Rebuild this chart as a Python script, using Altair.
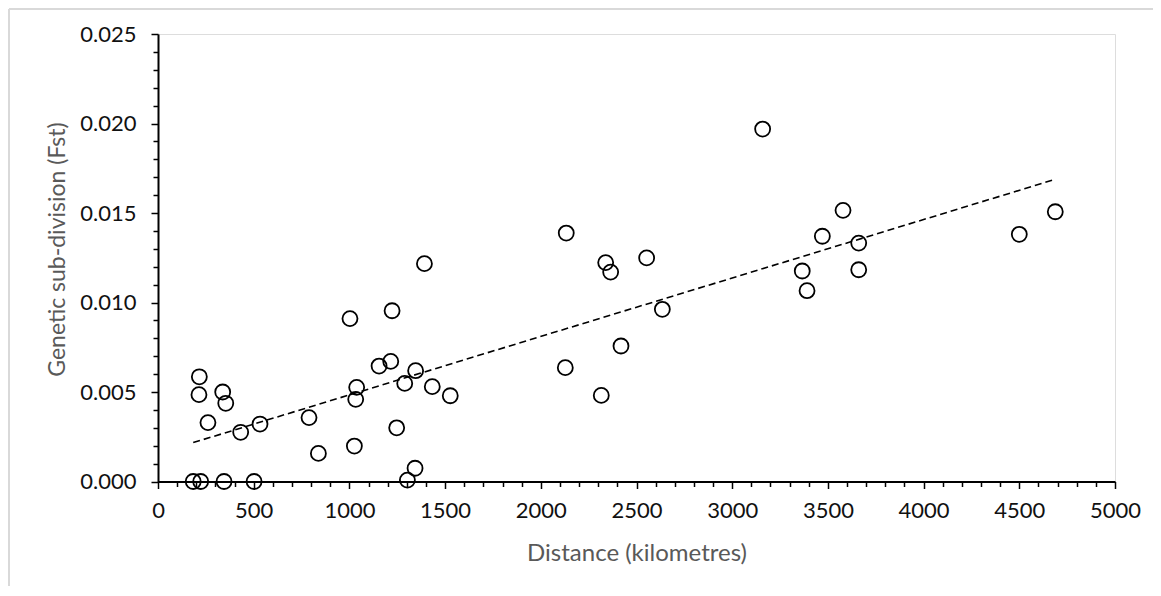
import altair as alt
import pandas as pd

distance_km = [184, 223, 345, 502, 216, 214, 338, 354, 261, 432, 533, 789, 838,
               1003, 1223, 1155, 1216, 1038, 1033, 1346, 1289, 1433, 1527, 1247,
               1026, 1343, 1303, 1392, 2133, 2339, 2365, 2553, 2635, 2419, 2128,
               2316, 3366, 3391, 3471, 3579, 3661, 3661, 3159, 4500, 4688]
fst = [0.0, 0.0, 0.0, 0.0, 0.00585, 0.00485, 0.0050, 0.00437, 0.00329, 0.00275,
       0.00321, 0.00357, 0.00157, 0.0091, 0.00954, 0.00645, 0.00671, 0.00526,
       0.00459, 0.00619, 0.00548, 0.0053, 0.00479, 0.0030, 0.00198, 0.00074,
       0.00008, 0.01217, 0.01388, 0.01223, 0.0117, 0.01249, 0.00962, 0.00757,
       0.00636, 0.00481, 0.01176, 0.01066, 0.0137, 0.01515, 0.01332, 0.01183,
       0.01969, 0.01381, 0.01507]

x_ticks = list(range(0, 5001, 100))
y_ticks = [round(i * 0.001, 3) for i in range(0, 26)]

df = pd.DataFrame({"km": distance_km, "fst": fst})

FONT = "Lato"

x_axis = alt.Axis(
    values=x_ticks,
    labelExpr="datum.value % 500 === 0 ? format(datum.value, 'd') : ''",
    tickSize={"condition": {"test": "datum.value % 500 === 0", "value": 7}, "value": 5},
    tickColor="black", tickWidth=1.5,
    domainColor="black", domainWidth=2,
    labelFont=FONT, labelFontSize=22, labelColor="#111111", labelPadding=12,
    labelOverlap=False, labelFlush=False,
    title="Distance (kilometres)", titleFont=FONT, titleFontSize=24,
    titleColor="#595959", titleFontWeight="normal",
    titleBaseline="alphabetic", titleY=79,
    grid=False,
)
y_axis = alt.Axis(
    values=y_ticks,
    labelExpr="abs(round(datum.value*200) - datum.value*200) < 1e-6 ? format(datum.value, '.3f') : ''",
    tickSize={"condition": {"test": "abs(round(datum.value*200) - datum.value*200) < 1e-6", "value": 7}, "value": 5},
    tickColor="black", tickWidth=1.5,
    domainColor="black", domainWidth=2,
    labelFont=FONT, labelFontSize=22, labelColor="#111111", labelPadding=15,
    labelOverlap=False, labelFlush=False,
    title="Genetic sub-division (Fst)", titleFont=FONT, titleFontSize=23,
    titleColor="#595959", titleFontWeight="normal",
    titleBaseline="alphabetic", titleAngle=-90, titleX=-94, titleY=215,
    grid=False,
)

x_enc = alt.X("km:Q", scale=alt.Scale(domain=[0, 5000], nice=False), axis=x_axis)
y_enc = alt.Y("fst:Q", scale=alt.Scale(domain=[0, 0.025], nice=False), axis=y_axis)

points = alt.Chart(df).mark_point(
    shape="circle", filled=False, size=225, stroke="black", strokeWidth=1.8, opacity=1
).encode(x=x_enc, y=y_enc)

trend = alt.Chart(df).transform_regression("km", "fst").mark_line(
    strokeDash=[7, 4], color="black", strokeWidth=1.6
).encode(x=x_enc, y=y_enc)

one = pd.DataFrame({"a": [0]})
frame_left = alt.Chart(one).mark_rule(color="#d9d9d9", strokeWidth=2).encode(
    x=alt.value(-149), y=alt.value(-25), y2=alt.value(800))
frame_top = alt.Chart(one).mark_rule(color="#d9d9d9", strokeWidth=2).encode(
    x=alt.value(-149), x2=alt.value(1300), y=alt.value(-25))

chart = alt.layer(points, trend, frame_left, frame_top).properties(
    width=957, height=447.5,
    autosize=alt.AutoSizeParams(type="none"),
    padding={"left": 150, "top": 26, "right": 38, "bottom": 104},
).configure_view(stroke="black", strokeWidth=2).configure(background="white")

chart.save("out.html", embed_options={"renderer": "svg", "actions": False})
